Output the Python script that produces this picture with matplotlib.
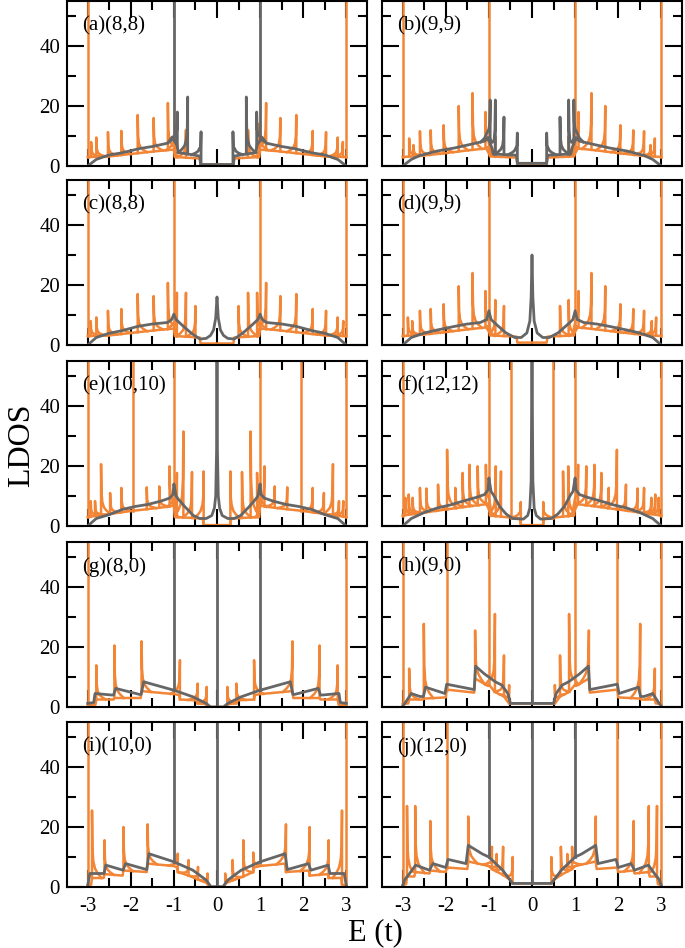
import numpy as np
import matplotlib
matplotlib.use("Agg")
import matplotlib.pyplot as plt
from matplotlib.ticker import MultipleLocator

plt.rcParams['font.family'] = ['Liberation Serif', 'DejaVu Serif']
plt.rcParams['axes.unicode_minus'] = False

# ---- data: (E, LDOS) envelope knots and (E, peak) spikes ----
panel_labels = ['(a)(8,8)', '(b)(9,9)', '(c)(8,8)', '(d)(9,9)', '(e)(10,10)',
                '(f)(12,12)', '(g)(8,0)', '(h)(9,0)', '(i)(10,0)', '(j)(12,0)']

a_orange_env = [(-3, 3), (-2.5, 3.2), (-2.0, 4.0), (-1.5, 4.8), (-1.15, 5.3), (-1.0, 5.5), (-0.98, 3.0),
                (-0.4, 2.5), (-0.38, 0.5), (0.38, 0.5), (0.4, 2.5), (0.98, 3.0), (1.0, 5.5), (1.15, 5.3),
                (1.5, 4.8), (2.0, 4.0), (2.5, 3.2), (3, 3)]
a_orange_spk = [(-3, 60), (-2.92, 8), (-2.80, 9.5), (-2.53, 11.3), (-2.22, 11.7), (-1.84, 17), (-1.47, 16),
                (-1.14, 21), (-0.97, 14), (-0.72, 12), (0.72, 12), (0.97, 14), (1.14, 21), (1.47, 16),
                (1.84, 17), (2.22, 11.7), (2.53, 11.3), (2.80, 9.5), (2.92, 8), (3, 60)]
a_gray_env = [(-3, 0), (-2.8, 2.2), (-2.5, 3.7), (-2.2, 4.4), (-1.8, 5.8), (-1.5, 6.5), (-1.15, 7.6),
              (-1.02, 9.0), (-0.93, 7.0), (-0.9, 4.5), (-0.68, 4.0), (-0.4, 3.3), (-0.38, 0.5), (0.38, 0.5),
              (0.4, 3.3), (0.68, 4.0), (0.9, 4.5), (0.93, 7.0), (1.02, 9.0), (1.15, 7.6), (1.5, 6.5),
              (1.8, 5.8), (2.2, 4.4), (2.5, 3.7), (2.8, 2.2), (3, 0)]
a_gray_spk = [(-1, 60), (-0.92, 18), (-0.68, 23), (-0.37, 11.4), (0.37, 11.4), (0.68, 23), (0.92, 18), (1, 60)]

b_orange_env = [(-3, 3), (-2.5, 3.5), (-2.0, 4.3), (-1.5, 5.2), (-1.1, 5.8), (-1.0, 6.5), (-0.98, 3.2),
                (-0.36, 2.8), (-0.34, 0.8), (0.34, 0.8), (0.36, 2.8), (0.98, 3.2), (1.0, 6.5), (1.1, 5.8),
                (1.5, 5.2), (2.0, 4.3), (2.5, 3.5), (3, 3)]
b_orange_spk = [(-3, 60), (-2.85, 9.2), (-2.75, 7), (-2.6, 11.6), (-2.35, 11.9), (-2.05, 13.6), (-1.70, 20),
                (-1.38, 24.3), (-1.08, 18), (-1, 60), (-0.85, 10), (0.85, 10), (1, 60), (1.08, 18),
                (1.38, 24.3), (1.70, 20), (2.05, 13.6), (2.35, 11.9), (2.6, 11.6), (2.75, 7), (2.85, 9.2), (3, 60)]
b_gray_env = [(-3, 0), (-2.8, 2.2), (-2.6, 3.5), (-2.2, 5.0), (-1.8, 6.0), (-1.4, 7.3), (-1.1, 8.3),
              (-1.02, 9.5), (-0.93, 6.0), (-0.9, 4.0), (-0.36, 3.6), (-0.34, 0.9), (0.34, 0.9), (0.36, 3.6),
              (0.9, 4.0), (0.93, 6.0), (1.02, 9.5), (1.1, 8.3), (1.4, 7.3), (1.8, 6.0), (2.2, 5.0),
              (2.6, 3.5), (2.8, 2.2), (3, 0)]
b_gray_spk = [(-0.97, 22), (-0.85, 22), (-0.65, 16.3), (-0.34, 11), (0.34, 11), (0.65, 16.3), (0.85, 22), (0.97, 22)]

c_orange_env = a_orange_env
c_orange_spk = [(-3, 60), (-2.93, 8), (-2.80, 9.2), (-2.53, 11.4), (-2.22, 12), (-1.84, 17), (-1.47, 16.3),
                (-1.14, 20.7), (-1, 60), (-0.93, 17.4), (-0.72, 17.4), (-0.5, 13), (0.5, 13), (0.72, 17.4),
                (0.93, 17.4), (1, 60), (1.14, 20.7), (1.47, 16.3), (1.84, 17), (2.22, 12), (2.53, 11.4),
                (2.80, 9.2), (2.93, 8), (3, 60)]
c_gray_env = [(-3, 0), (-2.8, 2.5), (-2.5, 3.9), (-2.2, 4.8), (-1.84, 6.2), (-1.5, 7.0), (-1.15, 7.5),
              (-1.05, 8.5), (-1.0, 10.3), (-0.95, 8.5), (-0.8, 6.5), (-0.6, 4.0), (-0.4, 2.0), (-0.25, 2.2),
              (-0.15, 3.2), (-0.08, 5.0), (-0.03, 9.0), (0, 16), (0.03, 9.0), (0.08, 5.0), (0.15, 3.2),
              (0.25, 2.2), (0.4, 2.0), (0.6, 4.0), (0.8, 6.5), (0.95, 8.5), (1.0, 10.3), (1.05, 8.5),
              (1.15, 7.5), (1.5, 7.0), (1.84, 6.2), (2.2, 4.8), (2.5, 3.9), (2.8, 2.5), (3, 0)]
c_gray_spk = []

d_orange_env = b_orange_env
d_orange_spk = [(-3, 60), (-2.88, 9.2), (-2.78, 8), (-2.6, 11.4), (-2.35, 12), (-2.05, 13.6), (-1.70, 19.6),
                (-1.38, 24), (-1.08, 18), (-1, 60), (-0.85, 15), (-0.65, 13), (0.65, 13), (0.85, 15),
                (1, 60), (1.08, 18), (1.38, 24), (1.70, 19.6), (2.05, 13.6), (2.35, 12), (2.6, 11.4),
                (2.78, 8), (2.88, 9.2), (3, 60)]
d_gray_env = [(-3, 0), (-2.8, 2.5), (-2.5, 4.0), (-2.2, 5.0), (-1.8, 6.2), (-1.5, 7.0), (-1.2, 7.5),
              (-1.05, 8.5), (-1.0, 11.4), (-0.95, 8.5), (-0.8, 6.5), (-0.6, 4.0), (-0.4, 2.5), (-0.25, 2.5),
              (-0.12, 4.0), (-0.05, 8.0), (-0.02, 16), (0, 30), (0.02, 16), (0.05, 8.0), (0.12, 4.0),
              (0.25, 2.5), (0.4, 2.5), (0.6, 4.0), (0.8, 6.5), (0.95, 8.5), (1.0, 11.4), (1.05, 8.5),
              (1.2, 7.5), (1.5, 7.0), (1.8, 6.2), (2.2, 5.0), (2.5, 4.0), (2.8, 2.5), (3, 0)]
d_gray_spk = []

e_orange_env = [(-3, 3), (-2.5, 4.0), (-2.0, 5.0), (-1.5, 5.8), (-1.1, 6.5), (-1.0, 7.0), (-0.98, 3.0),
                (-0.33, 2.5), (-0.31, 0.3), (0.31, 0.3), (0.33, 2.5), (0.98, 3.0), (1.0, 7.0), (1.1, 6.5),
                (1.5, 5.8), (2.0, 5.0), (2.5, 4.0), (3, 3)]
e_orange_spk = [(-3, 60), (-2.93, 8.3), (-2.83, 8.3), (-2.69, 20.6), (-2.48, 11), (-2.22, 12.7), (-1.94, 60),
                (-1.63, 12.9), (-1.34, 13.2), (-1.1, 19.9), (-1, 60), (-0.93, 17.7), (-0.78, 31.5),
                (-0.58, 18), (-0.31, 18.2), (0.31, 18.2), (0.58, 18), (0.78, 31.5), (0.93, 17.7), (1, 60),
                (1.1, 19.9), (1.34, 13.2), (1.63, 12.9), (1.94, 60), (2.22, 12.7), (2.48, 11), (2.69, 20.6),
                (2.83, 8.3), (2.93, 8.3), (3, 60)]
e_gray_env = [(-3, 0), (-2.8, 2.5), (-2.5, 3.8), (-2.2, 5.5), (-1.9, 6.5), (-1.6, 7.2), (-1.3, 8.3),
              (-1.1, 9.3), (-1.02, 10.5), (-1.0, 14), (-0.95, 10), (-0.9, 9.0), (-0.75, 6.5), (-0.55, 3.5),
              (-0.4, 2.5), (-0.25, 2.5), (-0.12, 3.5), (-0.06, 6.0), (-0.03, 10), (-0.01, 25), (0, 60),
              (0.01, 25), (0.03, 10), (0.06, 6.0), (0.12, 3.5), (0.25, 2.5), (0.4, 2.5), (0.55, 3.5),
              (0.75, 6.5), (0.9, 9.0), (0.95, 10), (1.0, 14), (1.02, 10.5), (1.1, 9.3), (1.3, 8.3),
              (1.6, 7.2), (1.9, 6.5), (2.2, 5.5), (2.5, 3.8), (2.8, 2.5), (3, 0)]
e_gray_spk = []

f_orange_env = [(-3, 3.5), (-2.5, 4.5), (-2.0, 5.5), (-1.5, 6.5), (-1.1, 7.2), (-1.0, 7.5), (-0.98, 3.5),
                (-0.28, 2.5), (-0.26, 0.3), (0.26, 0.3), (0.28, 2.5), (0.98, 3.5), (1.0, 7.5), (1.1, 7.2),
                (1.5, 6.5), (2.0, 5.5), (2.5, 4.5), (3, 3.5)]
f_orange_spk = [(-3, 60), (-2.94, 9.4), (-2.86, 10.5), (-2.77, 9.4), (-2.6, 12.7), (-2.45, 12.5),
                (-2.18, 13.8), (-1.97, 25.4), (-1.78, 12.7), (-1.61, 17.7), (-1.45, 20.4), (-1.26, 19.9),
                (-1.07, 20.4), (-1, 60), (-0.84, 19.9), (-0.72, 18.2), (-0.49, 60), (-0.26, 8),
                (0.26, 8), (0.49, 60), (0.72, 18.2), (0.84, 19.9), (1, 60), (1.07, 20.4), (1.26, 19.9),
                (1.45, 20.4), (1.61, 17.7), (1.78, 12.7), (1.97, 25.4), (2.18, 13.8), (2.45, 12.5),
                (2.6, 12.7), (2.77, 9.4), (2.86, 10.5), (2.94, 9.4), (3, 60)]
f_gray_env = [(-3, 0), (-2.8, 2.5), (-2.5, 4.5), (-2.2, 6.0), (-1.9, 7.0), (-1.6, 8.3), (-1.3, 9.5),
              (-1.1, 10.5), (-1.02, 12), (-1.0, 16), (-0.95, 11.5), (-0.9, 10.5), (-0.75, 6.5), (-0.6, 4.0),
              (-0.45, 2.5), (-0.2, 2.3), (-0.1, 3.5), (-0.05, 6.0), (-0.02, 15), (0, 60), (0.02, 15),
              (0.05, 6.0), (0.1, 3.5), (0.2, 2.3), (0.45, 2.5), (0.6, 4.0), (0.75, 6.5), (0.9, 10.5),
              (0.95, 11.5), (1.0, 16), (1.02, 12), (1.1, 10.5), (1.3, 9.5), (1.6, 8.3), (1.9, 7.0),
              (2.2, 6.0), (2.5, 4.5), (2.8, 2.5), (3, 0)]
f_gray_spk = []

g_orange_env = [(-3, 0.5), (-2.82, 0.8), (-2.8, 2.5), (-2.4, 2.5), (-2.38, 3.0), (-1.77, 3.0), (-1.75, 5.3),
                (-1.0, 4.3), (-0.88, 4.0), (-0.86, 2.5), (-0.47, 2.2), (-0.45, 1.2), (-0.26, 1.0),
                (-0.24, 0.0), (0.24, 0.0), (0.26, 1.0), (0.45, 1.2), (0.47, 2.2), (0.86, 2.5), (0.88, 4.0),
                (1.0, 4.3), (1.75, 5.3), (1.77, 3.0), (2.38, 3.0), (2.4, 2.5), (2.8, 2.5), (2.82, 0.8), (3, 0.5)]
g_orange_spk = [(-3, 60), (-2.8, 13.9), (-2.38, 20.5), (-1.75, 21.9), (-0.86, 15.6), (-0.45, 7.8),
                (-0.24, 6.7), (0.24, 6.7), (0.45, 7.8), (0.86, 15.6), (1.75, 21.9), (2.38, 20.5),
                (2.8, 13.9), (3, 60)]
g_gray_env = [(-3, 1.2), (-2.86, 1.5), (-2.83, 4.5), (-2.45, 4.0), (-2.4, 4.0), (-2.35, 6.2), (-1.8, 4.2),
              (-1.76, 4.2), (-1.7, 8.4), (-1.0, 5.6), (-0.56, 3.4), (-0.25, 1.2), (-0.15, 0), (0.15, 0),
              (0.25, 1.2), (0.56, 3.4), (1.0, 5.6), (1.7, 8.4), (1.76, 4.2), (1.8, 4.2), (2.35, 6.2),
              (2.4, 4.0), (2.45, 4.0), (2.83, 4.5), (2.86, 1.5), (3, 1.2)]
g_gray_spk = [(-1, 60), (0, 60), (1, 60)]

h_orange_env = [(-3, 1.0), (-2.87, 1.2), (-2.85, 2.5), (-2.53, 2.5), (-2.51, 2.8), (-2.0, 3.2), (-1.98, 5.8),
                (-1.34, 4.8), (-1.32, 9.5), (-1.02, 7.0), (-1.0, 7.5), (-0.86, 5.0), (-0.65, 3.5),
                (-0.55, 1.5), (-0.53, 1.2), (0.53, 1.2), (0.55, 1.5), (0.65, 3.5), (0.86, 5.0), (1.0, 7.5),
                (1.02, 7.0), (1.32, 9.5), (1.34, 4.8), (1.98, 5.8), (2.0, 3.2), (2.51, 2.8), (2.53, 2.5),
                (2.85, 2.5), (2.87, 1.2), (3, 1.0)]
h_orange_spk = [(-3, 60), (-2.85, 12.8), (-2.51, 27.7), (-1.98, 60), (-1.32, 25.5), (-1, 60), (-0.86, 31),
                (-0.65, 17.2), (-0.53, 7.3), (0.53, 7.3), (0.65, 17.2), (0.86, 31), (1, 60), (1.32, 25.5),
                (1.98, 60), (2.51, 27.7), (2.85, 12.8), (3, 60)]
h_gray_env = [(-3, 0.3), (-2.95, 1.2), (-2.8, 4.5), (-2.6, 3.5), (-2.52, 3.5), (-2.47, 6.6), (-2.02, 4.5),
              (-1.98, 7.6), (-1.34, 5.8), (-1.31, 13.6), (-1.1, 11.0), (-0.85, 8.4), (-0.7, 7.3),
              (-0.56, 4.5), (-0.5, 1.2), (0.5, 1.2), (0.56, 4.5), (0.7, 7.3), (0.85, 8.4), (1.1, 11.0),
              (1.31, 13.6), (1.34, 5.8), (1.98, 7.6), (2.02, 4.5), (2.47, 6.6), (2.52, 3.5), (2.6, 3.5),
              (2.8, 4.5), (2.95, 1.2), (3, 0.3)]
h_gray_spk = [(0, 60)]

i_orange_env = [(-3, 0.5), (-2.92, 0.8), (-2.9, 3.0), (-2.63, 3.0), (-2.61, 4.3), (-2.19, 3.8), (-2.17, 5.5),
                (-1.63, 5.0), (-1.61, 7.8), (-1.0, 7.0), (-0.93, 6.5), (-0.91, 5.0), (-0.66, 3.8),
                (-0.44, 2.5), (-0.22, 1.2), (-0.2, 0), (0.17, 0), (0.19, 1.2), (0.36, 2.2), (0.61, 3.5),
                (0.84, 5.0), (0.86, 6.5), (1.0, 7.0), (1.58, 7.8), (1.6, 5.0), (2.13, 5.5), (2.15, 3.8),
                (2.57, 4.3), (2.59, 3.0), (2.88, 3.0), (2.9, 0.8), (3, 0.5)]
i_orange_spk = [(-3, 60), (-2.9, 25.5), (-2.61, 15.6), (-2.17, 20), (-1.61, 20.9), (-0.91, 11.1),
                (-0.66, 9), (-0.44, 6.7), (-0.22, 4.5), (0.19, 4.5), (0.36, 9), (0.61, 15.6),
                (0.84, 11.5), (1.6, 20.9), (2.15, 20), (2.59, 15.6), (2.9, 25.5), (3, 60)]
i_gray_env = [(-3, 0.5), (-2.95, 4.5), (-2.62, 4.5), (-2.58, 7.3), (-2.18, 5.6), (-2.12, 7.8), (-1.63, 5.8),
              (-1.58, 11.1), (-1.0, 8.4), (-0.56, 5.6), (-0.25, 2.3), (-0.14, 0.1), (0.14, 0.1),
              (0.25, 2.3), (0.56, 5.6), (1.0, 8.4), (1.58, 11.1), (1.63, 5.8), (2.12, 7.8), (2.18, 5.6),
              (2.58, 7.3), (2.62, 4.5), (2.95, 4.5), (3, 0.5)]
i_gray_spk = [(-1, 60), (0, 60), (1, 60)]

j_orange_env = [(-3, 0.5), (-2.92, 1.0), (-2.9, 3.5), (-2.73, 3.5), (-2.71, 5.0), (-2.38, 4.5), (-2.36, 5.5),
                (-2.0, 5.0), (-1.98, 6.5), (-1.5, 6.0), (-1.48, 8.5), (-1.0, 7.0), (-0.93, 6.0),
                (-0.67, 4.0), (-0.47, 2.0), (-0.45, 1.2), (0.45, 1.2), (0.47, 2.0), (0.67, 4.0),
                (0.93, 6.0), (1.0, 7.0), (1.48, 8.5), (1.5, 6.0), (1.98, 6.5), (2.0, 5.0), (2.36, 5.5),
                (2.38, 4.5), (2.71, 5.0), (2.73, 3.5), (2.9, 3.5), (2.92, 1.0), (3, 0.5)]
j_orange_spk = [(-3, 60), (-2.9, 27), (-2.71, 27), (-2.36, 22), (-1.98, 60), (-1.48, 23.5), (-0.93, 13.4),
                (-0.82, 11), (-0.67, 13.4), (-0.45, 10), (0.45, 10), (0.67, 13.4), (0.82, 11),
                (0.93, 13.4), (1.48, 23.5), (1.98, 60), (2.36, 22), (2.71, 27), (2.9, 27), (3, 60)]
j_gray_env = [(-3, 0.5), (-2.95, 2.5), (-2.84, 4.5), (-2.7, 7.3), (-2.38, 5.6), (-2.3, 7.8), (-2.0, 6.5),
              (-1.95, 9.2), (-1.53, 7.8), (-1.48, 13.9), (-1.15, 11.0), (-1.0, 10.0), (-0.68, 5.6),
              (-0.45, 1.2), (0.45, 1.2), (0.68, 5.6), (1.0, 10.0), (1.15, 11.0), (1.48, 13.9),
              (1.53, 7.8), (1.95, 9.2), (2.0, 6.5), (2.3, 7.8), (2.38, 5.6), (2.7, 7.3), (2.84, 4.5),
              (2.95, 2.5), (3, 0.5)]
j_gray_spk = [(-1, 60), (0, 60), (1, 60)]

panels = [
    (a_orange_env, a_orange_spk, a_gray_env, a_gray_spk),
    (b_orange_env, b_orange_spk, b_gray_env, b_gray_spk),
    (c_orange_env, c_orange_spk, c_gray_env, c_gray_spk),
    (d_orange_env, d_orange_spk, d_gray_env, d_gray_spk),
    (e_orange_env, e_orange_spk, e_gray_env, e_gray_spk),
    (f_orange_env, f_orange_spk, f_gray_env, f_gray_spk),
    (g_orange_env, g_orange_spk, g_gray_env, g_gray_spk),
    (h_orange_env, h_orange_spk, h_gray_env, h_gray_spk),
    (i_orange_env, i_orange_spk, i_gray_env, i_gray_spk),
    (j_orange_env, j_orange_spk, j_gray_env, j_gray_spk),
]

ORANGE = '#F28636'
GRAY = '#666666'

# shape of a van Hove tail (offset in E, fraction of peak height left)
tail_dx = [0.0, 0.01, 0.03, 0.07, 0.13, 0.22]
tail_f = [1.0, 0.45, 0.25, 0.14, 0.07, 0.0]


def draw_curve(ax, env, spikes, color, lw):
    ex = np.array([p[0] for p in env], dtype=float)
    ey = np.array([p[1] for p in env], dtype=float)
    ax.plot(ex, ey, color=color, lw=lw)
    for e, h in spikes:
        base = np.interp(e, ex, ey)
        if h >= 55:
            ax.plot([e, e], [base, h], color=color, lw=lw)
            continue
        # tails point toward zero outside |E|=1, away from zero inside
        d = -np.sign(e) if abs(e) > 1 else np.sign(e)
        xs = [e]
        ys = [base]
        for dx, f in zip(tail_dx, tail_f):
            xt = e + d * dx
            xs.append(xt)
            ys.append(np.interp(xt, ex, ey) + f * (h - base))
        ax.plot(xs, ys, color=color, lw=lw)


W, H = 685, 948
fig = plt.figure(figsize=(W / 100, H / 100), dpi=100)

col_left = [67, 382]
row_top = [1, 180, 361, 542, 722]
ax_w, ax_h = 300, 165

for k, (o_env, o_spk, g_env, g_spk) in enumerate(panels):
    r, c = divmod(k, 2)
    ax = fig.add_axes([col_left[c] / W, 1 - (row_top[r] + ax_h) / H, ax_w / W, ax_h / H])
    draw_curve(ax, o_env, o_spk, ORANGE, 1.8)
    draw_curve(ax, g_env, g_spk, GRAY, 2.0)

    ax.set_xlim(-3.48, 3.48)
    ax.set_ylim(0, 55)
    ax.xaxis.set_major_locator(MultipleLocator(1))
    ax.xaxis.set_minor_locator(MultipleLocator(0.5))
    ax.yaxis.set_major_locator(MultipleLocator(20))
    ax.yaxis.set_minor_locator(MultipleLocator(10))
    ax.tick_params(which='both', direction='in', top=True, right=True, width=1.5, labelsize=15)
    ax.tick_params(which='major', length=12)
    ax.tick_params(which='minor', length=6.5)
    ax.tick_params(axis='y', pad=5)
    ax.tick_params(axis='x', pad=7)
    ax.tick_params(labelleft=(c == 0), labelbottom=(r == 4))
    for s in ax.spines.values():
        s.set_linewidth(1.5)
    ax.text(0.05, 0.85, panel_labels[k], transform=ax.transAxes, fontsize=15, va='center', ha='left')

fig.text(375 / W, 1 - 933 / H, 'E (t)', fontsize=22, ha='center', va='center')
fig.text(22 / W, 1 - 445 / H, 'LDOS', fontsize=23, ha='center', va='center', rotation=90)

fig.savefig('out.png', dpi=100)
